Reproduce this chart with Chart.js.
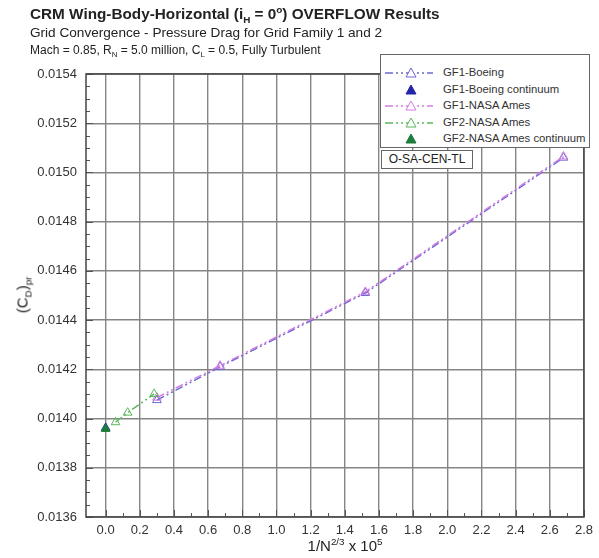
<!DOCTYPE html>
<html lang="en">
<head>
<meta charset="UTF-8">
<title>CRM Wing-Body-Horizontal OVERFLOW Results</title>
<script src="https://cdn.jsdelivr.net/npm/chart.js"></script>
<style>
body{margin:0;background:#fff;font-family:Arial,"Liberation Sans",Helvetica,sans-serif;color:#222}
.wrap{position:relative;width:599px;height:558px;overflow:hidden}
#chart{position:absolute;left:0;top:0}
.t{position:absolute;white-space:nowrap}
.title{left:30px;top:5px;font-size:15.3px;font-weight:700}
.sub{left:30px;top:25px;font-size:13.6px}
.cond{left:30px;top:43px;font-size:12px}
.ytitle{left:22px;top:295px;font-size:15px;transform:translate(-50%,-50%) rotate(-90deg)}
.xtitle{left:345px;top:545px;font-size:15px;transform:translate(-50%,-50%)}
sub,sup{font-size:65%;line-height:0}
.legend{position:absolute;left:380px;top:54px;width:208px;height:92px;border:1px solid #666;background:#fff}
.row{position:absolute;left:0;height:16px;width:100%}
.row svg{position:absolute;left:4px;top:0}
.row span{position:absolute;left:62px;top:1px;font-size:11.3px;color:#333}
.tag{position:absolute;left:381px;top:150px;width:90px;height:17px;border:1px solid #666;background:#fff;
     font-size:12px;text-align:center;line-height:17px;color:#222}
</style>
</head>
<body>
<div class="wrap">
  <canvas id="chart" width="599" height="558"></canvas>
  <div class="t title">CRM Wing-Body-Horizontal (i<sub>H</sub> = 0<sup>o</sup>) OVERFLOW Results</div>
  <div class="t sub">Grid Convergence - Pressure Drag for Grid Family 1 and 2</div>
  <div class="t cond">Mach = 0.85, R<sub>N</sub> = 5.0 million, C<sub>L</sub> = 0.5, Fully Turbulent</div>
  <div class="t ytitle">(C<sub>D</sub>)<sub>pr</sub></div>
  <div class="t xtitle">1/N<sup>2/3</sup> x 10<sup>5</sup></div>

  <div class="legend" id="legend"></div>
  <div class="tag">O-SA-CEN-TL</div>
</div>

<script>
// ---- data ----
const xTicks=[0.0,0.2,0.4,0.6,0.8,1.0,1.2,1.4,1.6,1.8,2.0,2.2,2.4,2.6,2.8];
const yTicks=[0.0136,0.0138,0.0140,0.0142,0.0144,0.0146,0.0148,0.0150,0.0152,0.0154];

const gf1BoeingX=[0.30,0.67,1.52,2.68];
const gf1BoeingY=[0.014075,0.014210,0.014510,0.015060];
const gf1BoeingContX=[0.0];
const gf1BoeingContY=[0.013962];
const gf1AmesX=[0.30,0.67,1.52,2.68];
const gf1AmesY=[0.014085,0.014215,0.014515,0.015065];
const gf2AmesX=[0.058,0.129,0.284];
const gf2AmesY=[0.013985,0.014024,0.014100];
const gf2AmesContX=[0.0];
const gf2AmesContY=[0.013958];

// ---- colours ----
const cBoeing='#6a6ad2', cAmes1='#d47ce2', cAmes2='#5cb85c', cBoeingC='#2424a8', cAmes2C='#1d7d3a';
const dashDD=[8,3,2,3,2,3];

const pts=(xs,ys)=>xs.map((x,i)=>({x:x,y:ys[i]}));

// ---- legend (html) ----
const legendItems=[
  {label:'GF1-Boeing',color:cBoeing,line:true,fill:false},
  {label:'GF1-Boeing continuum',color:cBoeingC,line:false,fill:true},
  {label:'GF1-NASA Ames',color:cAmes1,line:true,fill:false},
  {label:'GF2-NASA Ames',color:cAmes2,line:true,fill:false},
  {label:'GF2-NASA Ames continuum',color:cAmes2C,line:false,fill:true}
];
const lg=document.getElementById('legend');
legendItems.forEach((it,i)=>{
  const r=document.createElement('div');r.className='row';r.style.top=(10+i*16.5)+'px';
  const tri=`<polygon points="26,3 31,12 21,12" fill="${it.fill?it.color:'#fff'}" stroke="${it.color}" stroke-width="1"/>`;
  const ln=it.line?`<line x1="0" y1="8" x2="48" y2="8" stroke="${it.color}" stroke-width="1.5" stroke-dasharray="${dashDD.join(' ')}"/>`:'';
  r.innerHTML=`<svg width="52" height="16">${ln}${tri}</svg><span>${it.label}</span>`;
  lg.appendChild(r);
});

// ---- minor ticks + frame ----
const framePlugin={
  id:'frame',
  afterDraw(chart){
    const {ctx,chartArea:a,scales:{x,y}}=chart;
    ctx.save();
    ctx.strokeStyle='#555';ctx.lineWidth=1;
    ctx.beginPath();
    for(let k=0;k<=36;k++){
      const v=0.0136+k*0.00005, py=Math.round(y.getPixelForValue(v))+0.5;
      const len=(k%4===0)?7:4;
      ctx.moveTo(a.left,py);ctx.lineTo(a.left+len,py);
    }
    for(let k=0;k<=28;k++){
      const v=k*0.1, px=Math.round(x.getPixelForValue(v))+0.5;
      const len=(k%2===0)?7:4;
      ctx.moveTo(px,a.bottom);ctx.lineTo(px,a.bottom-len);
    }
    ctx.stroke();
    ctx.lineWidth=1.5;ctx.strokeStyle='#444';
    ctx.strokeRect(a.left,a.top,a.right-a.left,a.bottom-a.top);
    ctx.restore();
  }
};

new Chart(document.getElementById('chart'),{
  type:'scatter',
  data:{datasets:[
    {label:'GF2-NASA Ames continuum',data:pts(gf2AmesContX,gf2AmesContY),order:0,
     pointStyle:'triangle',pointRadius:5,backgroundColor:cAmes2C,borderColor:cAmes2C,showLine:false},
    {label:'GF1-Boeing continuum',data:pts(gf1BoeingContX,gf1BoeingContY),order:1,
     pointStyle:'triangle',pointRadius:5,backgroundColor:cBoeingC,borderColor:cBoeingC,showLine:false},
    {label:'GF2-NASA Ames',data:pts(gf2AmesX,gf2AmesY),order:2,showLine:true,
     borderColor:cAmes2,borderWidth:1.5,borderDash:dashDD,pointStyle:'triangle',pointRadius:5,
     pointBorderColor:cAmes2,pointBackgroundColor:'rgba(255,255,255,0)',pointBorderWidth:1},
    {label:'GF1-NASA Ames',data:pts(gf1AmesX,gf1AmesY),order:3,showLine:true,
     borderColor:cAmes1,borderWidth:1.5,borderDash:dashDD,pointStyle:'triangle',pointRadius:5,
     pointBorderColor:cAmes1,pointBackgroundColor:'rgba(255,255,255,0)',pointBorderWidth:1},
    {label:'GF1-Boeing',data:pts(gf1BoeingX,gf1BoeingY),order:4,showLine:true,
     borderColor:cBoeing,borderWidth:1.5,borderDash:dashDD,pointStyle:'triangle',pointRadius:5,
     pointBorderColor:cBoeing,pointBackgroundColor:'rgba(255,255,255,0)',pointBorderWidth:1}
  ]},
  options:{
    responsive:false,animation:false,
    layout:{padding:{left:0,top:74,right:10,bottom:0}},
    plugins:{legend:{display:false},tooltip:{enabled:false}},
    scales:{
      x:{type:'linear',min:-0.115,max:2.8,
         afterBuildTicks:s=>{s.ticks=xTicks.map(v=>({value:v}));},
         afterFit:s=>{s.height=41;},
         border:{display:false},
         grid:{color:'#858585',lineWidth:1.4,drawTicks:false},
         ticks:{padding:6,color:'#333',font:{family:'Arial',size:13},callback:v=>v.toFixed(1)}},
      y:{type:'linear',min:0.0136,max:0.0154,
         afterBuildTicks:s=>{s.ticks=yTicks.map(v=>({value:v}));},
         afterFit:s=>{s.width=86;},
         border:{display:false},
         grid:{color:'#858585',lineWidth:1.4,drawTicks:false},
         ticks:{padding:9,color:'#333',font:{family:'Arial',size:13},callback:v=>v.toFixed(4)}}
    }
  },
  plugins:[framePlugin]
});
</script>
</body>
</html>
